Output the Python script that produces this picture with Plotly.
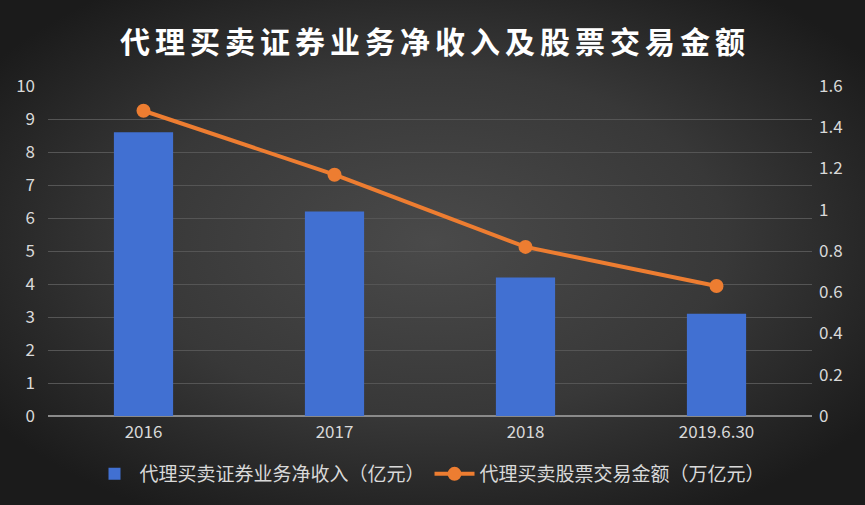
import base64
import plotly.graph_objects as go

title_text = "代理买卖证券业务净收入及股票交易金额"
categories = ["2016", "2017", "2018", "2019.6.30"]
net_income = [8.6, 6.2, 4.2, 3.1]          # 亿元
trade_amount = [1.48, 1.17, 0.82, 0.63]     # 万亿元
left_ticks = list(range(0, 11))
right_ticks = [0, 0.2, 0.4, 0.6, 0.8, 1, 1.2, 1.4, 1.6]
right_tick_text = ["0", "0.2", "0.4", "0.6", "0.8", "1", "1.2", "1.4", "1.6"]

W, H = 865, 505
ML, MR, MT, MB = 48, 53, 86, 89
PW, PH = W - ML - MR, H - MT - MB

svg = f'''<svg xmlns="http://www.w3.org/2000/svg" width="{W}" height="{H}" viewBox="0 0 {W} {H}" preserveAspectRatio="none">
<defs><radialGradient id="g" cx="50%" cy="48%" r="62%" gradientUnits="objectBoundingBox">
<stop offset="0%" stop-color="#4a4a4a"/><stop offset="55%" stop-color="#383838"/><stop offset="100%" stop-color="#1b1b1b"/>
</radialGradient></defs><rect width="{W}" height="{H}" fill="url(#g)"/></svg>'''
src = "data:image/svg+xml;base64," + base64.b64encode(svg.encode()).decode()

font = "Noto Sans CJK SC, Microsoft YaHei, sans-serif"
spaced_title = "\u2006".join(title_text)

fig = go.Figure()
fig.add_trace(go.Bar(
    x=categories, y=net_income, name="代理买卖证券业务净收入（亿元）",
    marker=dict(color="#4170d2", line=dict(width=0)), width=0.31, yaxis="y",
))
fig.add_trace(go.Scatter(
    x=categories, y=trade_amount, name="代理买卖股票交易金额（万亿元）",
    mode="lines+markers", yaxis="y2",
    line=dict(color="#ed7d31", width=4),
    marker=dict(color="#ed7d31", size=14),
))

fig.update_layout(
    width=W, height=H,
    margin=dict(l=ML, r=MR, t=MT, b=MB),
    paper_bgcolor="#2e2e2e", plot_bgcolor="rgba(0,0,0,0)",
    font=dict(family=font, color="#d9d9d9", size=17),
    title=dict(text=f"<b>{spaced_title}</b>", x=0.5, xanchor="center",
               y=1 - 42 / H, yanchor="middle", font=dict(size=30, color="#ffffff", family=font)),
    images=[dict(source=src, xref="paper", yref="paper", x=-ML / PW, y=1 + MT / PH,
                 sizex=W / PW, sizey=H / PH, sizing="stretch", layer="below", xanchor="left", yanchor="top")],
    xaxis=dict(showgrid=False, ticks="", tickfont=dict(size=17, color="#d9d9d9"),
               showline=False, zeroline=False, ticklabelstandoff=4),
    yaxis=dict(range=[0, 10], tickvals=left_ticks, showgrid=True, gridcolor="#555555", gridwidth=1,
               zeroline=True, zerolinecolor="#8a8a8a", zerolinewidth=2, ticks="",
               tickfont=dict(size=17, color="#d9d9d9"), ticklabelstandoff=12),
    yaxis2=dict(range=[0, 1.6], tickvals=right_ticks, ticktext=right_tick_text, overlaying="y",
                side="right", showgrid=False, zeroline=False, ticks="",
                tickfont=dict(size=17, color="#d9d9d9"), ticklabelstandoff=6),
    legend=dict(orientation="h", x=0.5, xanchor="center", y=-(474 - 416) / PH, yanchor="middle",
                font=dict(size=19, color="#d9d9d9"), bgcolor="rgba(0,0,0,0)", itemwidth=40,
                tracegroupgap=0),
    bargap=0.69,
)

fig.write_html("out.html", config={"displayModeBar": False},
               post_script="document.body.style.margin='0';document.body.style.overflow='hidden';")
